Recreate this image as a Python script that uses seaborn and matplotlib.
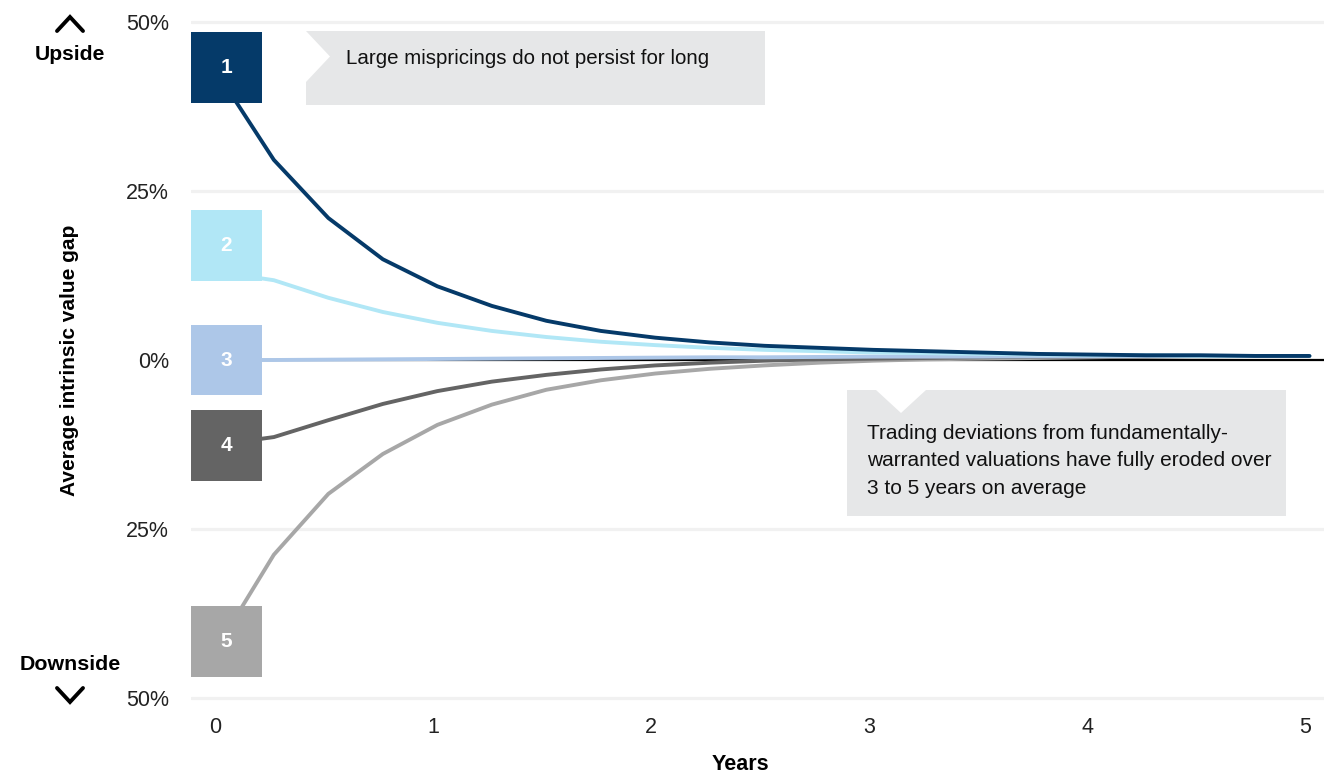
import matplotlib
matplotlib.use("Agg")
import matplotlib.pyplot as plt
import seaborn as sns
import pandas as pd
from matplotlib.patches import Rectangle, Polygon
from matplotlib.lines import Line2D

# ---------------- data ----------------
years = [0.02, 0.27, 0.52, 0.77, 1.02, 1.27, 1.52, 1.77, 2.02, 2.27, 2.52,
         2.77, 3.02, 3.27, 3.52, 3.77, 4.02, 4.27, 4.52, 4.77, 5.02]
q1 = [42.0, 29.6, 21.0, 14.9, 10.9, 8.0, 5.8, 4.3, 3.3, 2.6, 2.1,
      1.8, 1.5, 1.3, 1.1, 0.9, 0.8, 0.7, 0.7, 0.6, 0.6]
q2 = [13.0, 11.8, 9.2, 7.1, 5.5, 4.3, 3.4, 2.7, 2.2, 1.8, 1.5,
      1.3, 1.1, 1.0, 0.9, 0.8, 0.7, 0.7, 0.6, 0.6, 0.6]
q3 = [0.0, 0.0, 0.05, 0.1, 0.15, 0.2, 0.25, 0.3, 0.35, 0.4, 0.4,
      0.45, 0.5, 0.5, 0.5, 0.55, 0.55, 0.6, 0.6, 0.6, 0.6]
q4 = [-12.5, -11.4, -8.9, -6.5, -4.6, -3.2, -2.2, -1.4, -0.8, -0.4, -0.1,
      0.1, 0.2, 0.3, 0.4, 0.5, 0.5, 0.5, 0.6, 0.6, 0.6]
q5 = [-42.0, -28.8, -19.8, -13.9, -9.6, -6.6, -4.4, -3.0, -2.0, -1.3, -0.8,
      -0.4, -0.1, 0.1, 0.2, 0.3, 0.4, 0.5, 0.5, 0.6, 0.6]

quintiles = ["1", "2", "3", "4", "5"]
series = [q1, q2, q3, q4, q5]
colors = ["#053A69", "#B1E7F6", "#ADC7E8", "#646464", "#A7A7A7"]

y_ticks = [-50, -25, 0, 25, 50]
y_tick_labels = ["50%", "25%", "0%", "25%", "50%"]
x_ticks = [0, 1, 2, 3, 4, 5]
x_tick_labels = ["0", "1", "2", "3", "4", "5"]

# layout constants (label box centres, in axis units)
box_centers = [43.3, 16.9, 0.0, -12.6, -41.6]

W, H = 1324, 775

sns.set_theme(style="white")
plt.rcParams['font.family'] = ['Liberation Sans', 'DejaVu Sans']

def fx(px):
    return px / W

def fy(py):
    return 1 - py / H

fig = plt.figure(figsize=(W / 100, H / 100), dpi=100)
ax = fig.add_axes([fx(191), fy(704.8), (W - 191) / W, (704.8 - 15.2) / H])
ax.set_xlim(-0.11, 5.087)
ax.set_ylim(-51, 51)

for y in y_ticks:
    if y != 0:
        ax.axhline(y, color="#F1F1F1", lw=2.3, zorder=0)
ax.axhline(0, color="black", lw=1.6, zorder=1)

df = pd.DataFrame({
    "year": years * len(quintiles),
    "gap": [v for s in series for v in s],
    "quintile": [q for q, s in zip(quintiles, series) for _ in s],
})

sns.lineplot(data=df, x="year", y="gap", hue="quintile",
             hue_order=quintiles[::-1][:2] + quintiles[:3][::-1],
             palette=dict(zip(quintiles, colors)),
             estimator=None, sort=False, lw=2.8, legend=False, ax=ax, zorder=2)

for q, c, yc in zip(quintiles, colors, box_centers):
    ax.add_patch(Rectangle((-0.11, yc - 5.25), 0.326, 10.5, facecolor=c,
                           edgecolor="none", zorder=5, clip_on=False))
    ax.text(0.053, yc, q, color="white", fontsize=15, fontweight="bold",
            ha="center", va="center", zorder=6)

for s in ax.spines.values():
    s.set_visible(False)

ax.set_yticks(y_ticks, y_tick_labels)
ax.set_xticks(x_ticks, x_tick_labels)
ax.tick_params(axis="y", length=0, pad=16, labelsize=15.5, labelcolor="#222222")
ax.tick_params(axis="x", length=0, pad=9, labelsize=15.5, labelcolor="#222222")
ax.grid(False)

ax.set_xlabel("Years", fontsize=15.5, fontweight="bold", color="black")
ax.xaxis.set_label_coords((740 - 191) / (W - 191), (704.8 - 765) / 689.6)
ax.xaxis.label.set_va("center")
ax.set_ylabel("Average intrinsic value gap", fontsize=15, fontweight="bold",
              color="black")
ax.yaxis.set_label_coords((70 - 191) / (W - 191), 0.5)
ax.yaxis.label.set_va("center")

# Upside / Downside markers
fig.text(fx(70), fy(55), "Upside", fontsize=15.2, fontweight="bold",
         color="black", ha="center", va="center")
fig.text(fx(70), fy(665), "Downside", fontsize=15.4, fontweight="bold",
         color="black", ha="center", va="center")
fig.add_artist(Line2D([fx(57), fx(70), fx(83)], [fy(31), fy(17), fy(31)],
                      transform=fig.transFigure, color="black", lw=2.8,
                      solid_joinstyle="miter"))
fig.add_artist(Line2D([fx(57), fx(70), fx(83)], [fy(688), fy(702), fy(688)],
                      transform=fig.transFigure, color="black", lw=2.8,
                      solid_joinstyle="miter"))

# Callout boxes
callout_a = [(306, 31), (765, 31), (765, 105), (306, 105), (306, 82),
             (330, 56.5), (306, 31)]
fig.add_artist(Polygon([(fx(x), fy(y)) for x, y in callout_a], closed=True,
                       transform=fig.transFigure, facecolor="#E6E7E8",
                       edgecolor="none", zorder=3))
fig.text(fx(346), fy(59), "Large mispricings do not persist for long",
         fontsize=14.8, color="#111111", ha="left", va="center", zorder=4)

callout_b = [(847, 390), (876, 390), (901, 413), (926, 390), (1286, 390),
             (1286, 516), (847, 516)]
fig.add_artist(Polygon([(fx(x), fy(y)) for x, y in callout_b], closed=True,
                       transform=fig.transFigure, facecolor="#E6E7E8",
                       edgecolor="none", zorder=3))
fig.text(fx(867), fy(461),
         "Trading deviations from fundamentally-\n"
         "warranted valuations have fully eroded over\n"
         "3 to 5 years on average",
         fontsize=15, color="#111111", ha="left", va="center",
         linespacing=1.58, zorder=4)

fig.savefig("out.png", dpi=100)
